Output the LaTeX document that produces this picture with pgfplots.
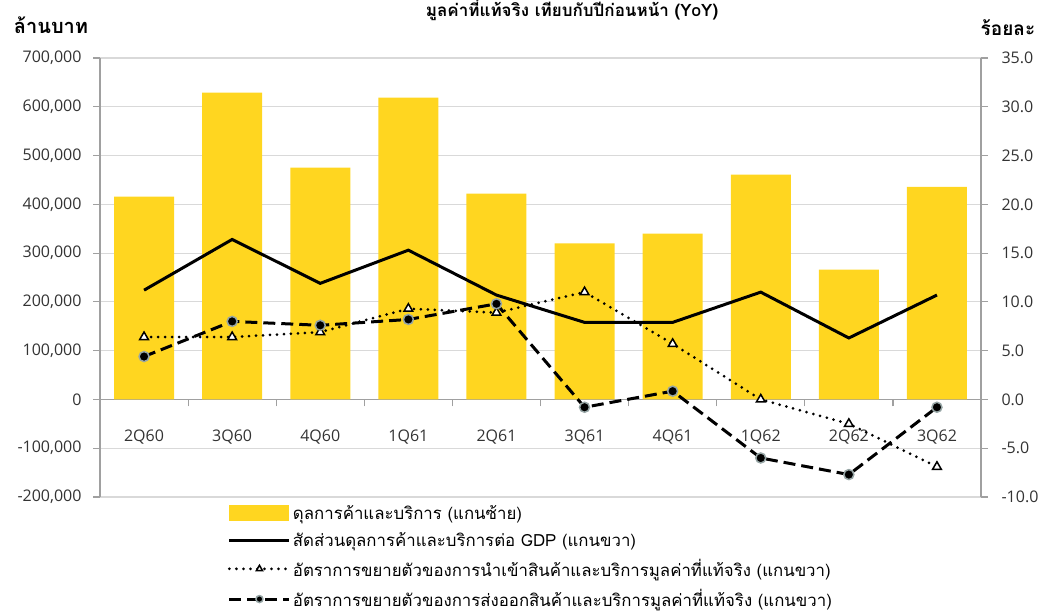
\documentclass[border=0pt]{standalone}
\usepackage{fontspec}
\setmainfont{Open Sans}
\newfontfamily\thai[Script=Thai]{Loma}
\usepackage{pgfplots}
\usepackage{pgfplotstable}
\pgfplotsset{compat=1.18}

\definecolor{barY}{RGB}{255,214,32}
\definecolor{gridG}{RGB}{217,217,217}
\definecolor{axG}{RGB}{160,160,160}
\definecolor{mkG}{RGB}{150,165,165}

% x: 0 = 2Q60 ... 9 = 3Q62
\pgfplotstableread{
x bal gdp imp exp
0 416000 11.2 6.4 4.4
1 629000 16.4 6.4 8.0
2 475000 11.9 6.9 7.6
3 619000 15.3 9.3 8.2
4 422000 10.7 8.9 9.8
5 320000 7.9 11.0 -0.8
6 340000 7.9 5.7 0.85
7 461000 11.0 0.0 -6.0
8 266000 6.3 -2.5 -7.7
9 436000 10.7 -6.9 -0.8
}\data

\pgfplotsset{
  base/.style={
    at={(100pt,117pt)}, anchor=south west,
    scale only axis, width=881pt, height=439pt,
    xmin=-0.5, xmax=9.5,
    /pgf/number format/assume math mode=true,
    tick label style={font=\fontsize{16}{18}\selectfont, text=black!80},
    axis line style={axG, line width=1.2pt},
    major tick style={axG, line width=1.2pt},
    tick align=outside, major tick length=7pt,
  },
  wideline/.style={legend image code/.code={
    \draw[mark repeat=2, mark phase=2, mark size=3.5pt, ##1] plot coordinates {(0pt,0pt) (30pt,0pt) (60pt,0pt)};}},
  widebar/.style={legend image code/.code={
    \fill[##1] (0pt,-8pt) rectangle (60pt,8pt);}},
}

\begin{document}
\begin{tikzpicture}
\path[use as bounding box] (0,0) rectangle (1046pt,614pt);

% left axis: trade balance, bars
\begin{axis}[base,
    ymin=-200000, ymax=700000,
    ytick={-200000,-100000,0,100000,200000,300000,400000,500000,600000,700000},
    scaled y ticks=false,
    yticklabel style={xshift=-8pt, /pgf/number format/.cd, fixed, 1000 sep={,}},
    axis x line*=middle, axis y line*=left,
    x axis line style={-},
    y axis line style={-},
    xtick={0,1,2,3,4,5,6,7,8,9},
    xticklabels={2Q60,3Q60,4Q60,1Q61,2Q61,3Q61,4Q61,1Q62,2Q62,3Q62},
    major x tick style={draw=none},
    minor xtick={0.5,1.5,2.5,3.5,4.5,5.5,6.5,7.5,8.5},
    minor tick length=7pt,
    minor x tick style={axG, line width=1.2pt},
    xticklabel style={yshift=-20pt},
    ymajorgrids, grid style={gridG, line width=1.2pt},
    ybar, bar width=60pt,
  ]
  \addplot[fill=barY, draw=none] table[x=x, y=bal]{\data};
\end{axis}

% right axis: percent, lines
\begin{axis}[base,
    ymin=-10, ymax=35,
    ytick={-10,-5,0,5,10,15,20,25,30,35},
    yticklabel style={xshift=10pt, /pgf/number format/.cd, fixed, fixed zerofill, precision=1},
    axis y line*=right, axis x line=none,
    y axis line style={-},
    legend style={at={(0.145,-0.014)}, anchor=north west, draw=none, fill=none,
      font=\thai\fontsize{16.8}{18}\selectfont, row sep=7.5pt, inner sep=0pt,
      /tikz/every even column/.append style={column sep=3pt}},
    legend cell align=left,
  ]
  \addlegendimage{widebar, fill=barY, draw=none}
  \addlegendentry{ดุลการค้าและบริการ (แกนซ้าย)}
  \addplot[black, line width=3pt, wideline] table[x=x, y=gdp]{\data};
  \addlegendentry{สัดส่วนดุลการค้าและบริการต่อ  GDP (แกนขวา)}
  \addplot[black, line width=3pt, line cap=round, dash pattern=on 0pt off 7pt,
    mark=triangle*, mark size=5pt,
    mark options={solid, fill=white, draw=black, line width=1.5pt}, wideline]
    table[x=x, y=imp]{\data};
  \addlegendentry{อัตราการขยายตัวของการนำเข้าสินค้าและบริการมูลค่าที่แท้จริง  (แกนขวา)}
  \addplot[black, line width=3pt, dash pattern=on 12pt off 6pt,
    mark=*, mark size=5pt,
    mark options={solid, fill=black, draw=mkG, line width=1.5pt}, wideline]
    table[x=x, y=exp]{\data};
  \addlegendentry{อัตราการขยายตัวของการส่งออกสินค้าและบริการมูลค่าที่แท้จริง  (แกนขวา)}
\end{axis}

\node[font=\thai\bfseries\fontsize{17}{20}\selectfont] at (572pt,604pt) {มูลค่าที่แท้จริง เทียบกับปีก่อนหน้า (YoY)};
\node[font=\thai\bfseries\fontsize{20}{22}\selectfont] at (51pt,589pt) {ล้านบาท};
\node[font=\thai\bfseries\fontsize{19}{22}\selectfont] at (1008pt,586pt) {ร้อยละ};
\end{tikzpicture}
\end{document}
